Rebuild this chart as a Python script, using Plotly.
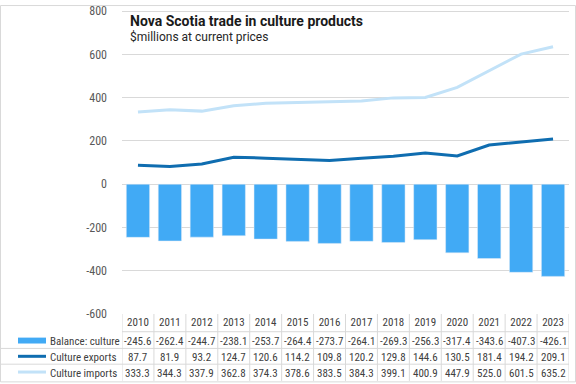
import plotly.graph_objects as go

years = [2010, 2011, 2012, 2013, 2014, 2015, 2016, 2017, 2018, 2019, 2020, 2021, 2022, 2023]
balance = [-245.6, -262.4, -244.7, -238.1, -253.7, -264.4, -273.7, -264.1, -269.3, -256.3, -317.4, -343.6, -407.3, -426.1]
exports = [87.7, 81.9, 93.2, 124.7, 120.6, 114.2, 109.8, 120.2, 129.8, 144.6, 130.5, 181.4, 194.2, 209.1]
imports = [333.3, 344.3, 337.9, 362.8, 374.3, 378.6, 383.5, 384.3, 399.1, 400.9, 447.9, 525.0, 601.5, 635.2]
y_ticks = [-600, -400, -200, 0, 200, 400, 600, 800]
series_names = ["Balance: culture", "Culture exports", "Culture imports"]
title = "Nova Scotia trade in culture products"
subtitle = "$millions at current prices"

BAR_C = "#41aaf5"
EXP_C = "#0f6db0"
IMP_C = "#c2e2f8"
GRID = "#d9d9d9"
TXT = "#404040"
FONT = "Roboto"
NARROW = "Liberation Sans Narrow, Roboto Condensed, DejaVu Sans Condensed, sans-serif"

W, H = 576, 384
L, R, T, B = 122, 7, 4, 70
PW, PH = W - L - R, H - T - B

def px(xp):
    return (xp - L) / PW

def py(yp):
    return (H - B - yp) / PH

fig = go.Figure()
fig.add_trace(go.Bar(x=years, y=balance, marker_color=BAR_C, name=series_names[0]))
fig.add_trace(go.Scatter(x=years, y=exports, mode="lines", line=dict(color=EXP_C, width=3), name=series_names[1]))
fig.add_trace(go.Scatter(x=years, y=imports, mode="lines", line=dict(color=IMP_C, width=3), name=series_names[2]))

shapes = []
annotations = []

# table vertical lines
for b in [y - 0.5 for y in years] + [years[-1] + 0.5]:
    shapes.append(dict(type="line", xref="x", yref="paper", x0=b, x1=b, y0=py(314), y1=py(382),
                       line=dict(color=GRID, width=1)))
# table horizontal lines
shapes.append(dict(type="line", xref="paper", yref="paper", x0=0, x1=1, y0=py(332), y1=py(332),
                   line=dict(color=GRID, width=1)))
for yy in [349, 365]:
    shapes.append(dict(type="line", xref="paper", yref="paper", x0=px(1), x1=1, y0=py(yy), y1=py(yy),
                       line=dict(color=GRID, width=1)))
# chart border
shapes.append(dict(type="rect", xref="paper", yref="paper", x0=px(0.5), x1=px(575.5), y0=py(0.5), y1=py(383),
                   line=dict(color=GRID, width=1)))

# legend keys
shapes.append(dict(type="rect", xref="paper", yref="paper", x0=px(18), x1=px(46), y0=py(338), y1=py(344),
                   fillcolor=BAR_C, line=dict(width=0)))
shapes.append(dict(type="line", xref="paper", yref="paper", x0=px(18), x1=px(46), y0=py(357), y1=py(357),
                   line=dict(color=EXP_C, width=3)))
shapes.append(dict(type="line", xref="paper", yref="paper", x0=px(18), x1=px(46), y0=py(373), y1=py(373),
                   line=dict(color=IMP_C, width=3)))

row_y = [342, 358, 374]
for name, ry in zip(series_names, row_y):
    annotations.append(dict(xref="paper", yref="paper", x=px(48), y=py(ry), text=name, showarrow=False,
                            xanchor="left", yanchor="middle", font=dict(family=NARROW, size=11, color=TXT)))
for vals, ry in zip([balance, exports, imports], row_y):
    for yr, v in zip(years, vals):
        annotations.append(dict(xref="x", yref="paper", x=yr, y=py(ry), text=f"{v:.1f}", showarrow=False,
                                xanchor="center", yanchor="middle", font=dict(family=NARROW, size=11, color=TXT)))

annotations.append(dict(xref="paper", yref="paper", x=px(128), y=py(16), text=f"<b>{title}</b>", showarrow=False,
                        xanchor="left", yanchor="middle", font=dict(family=FONT, size=14, color="#1a1a1a")))
annotations.append(dict(xref="paper", yref="paper", x=px(128), y=py(32), text=subtitle, showarrow=False,
                        xanchor="left", yanchor="middle", font=dict(family=FONT, size=12, color="#262626")))

fig.update_layout(
    width=W, height=H, margin=dict(l=L, r=R, t=T, b=B),
    plot_bgcolor="white", paper_bgcolor="white",
    showlegend=False, bargap=0.27,
    shapes=shapes, annotations=annotations,
    font=dict(family=FONT, size=11, color=TXT),
)
fig.update_xaxes(range=[2009.5, 2023.5], tickvals=years, ticktext=[str(y) for y in years],
                 showgrid=False, zeroline=False, showline=False, ticks="",
                 tickfont=dict(family=NARROW, size=11, color=TXT))
fig.update_yaxes(range=[-600, 810], tickvals=y_ticks, ticktext=[str(v) for v in y_ticks],
                 showgrid=True, gridcolor=GRID, gridwidth=1, zeroline=True, zerolinecolor=GRID, zerolinewidth=1,
                 showline=False, ticks="", ticklabelstandoff=14, ticklabeloverflow="allow",
                 tickfont=dict(family=NARROW, size=12, color="#595959"))

fig.write_html("out.html", config={"displayModeBar": False},
               post_script="document.body.style.margin='0';")
